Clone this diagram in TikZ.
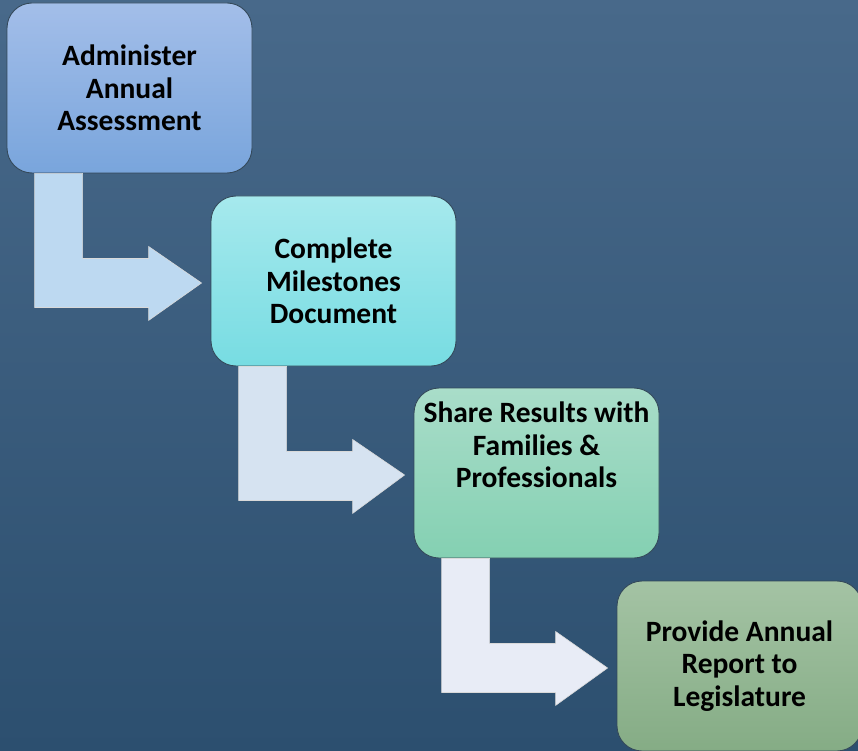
\documentclass[tikz,border=0pt]{standalone}
\usepackage{fontspec}
\setmainfont{Carlito}
\usetikzlibrary{calc}

\definecolor{bgtop}{HTML}{48698A}
\definecolor{bgbot}{HTML}{2C4F6F}
\definecolor{top1}{HTML}{A3BEE9}
\definecolor{bot1}{HTML}{79A5DC}
\definecolor{top2}{HTML}{A6E9ED}
\definecolor{bot2}{HTML}{77DCE2}
\definecolor{top3}{HTML}{A9DDC9}
\definecolor{bot3}{HTML}{84D0B2}
\definecolor{top4}{HTML}{A4C3A4}
\definecolor{bot4}{HTML}{85AC85}
\definecolor{arrow1}{HTML}{BDD9F1}
\definecolor{arrow2}{HTML}{D6E3F1}
\definecolor{arrow3}{HTML}{E8ECF6}
\definecolor{boxline}{HTML}{34495A}

\tikzset{
    stepbox/.style={draw=boxline, line width=0.9pt, rounded corners=25pt,
        minimum width=245pt, minimum height=170pt, inner sep=0pt},
    steptext/.style={align=center, text=black,
        font=\bfseries\fontsize{29.5}{32.5}\selectfont},
    bentarrow/.style={draw=white!85!black, line width=0.6pt}
}

\begin{document}
\begin{tikzpicture}[x=1pt, y=-1pt]
        \useasboundingbox (0, 0) rectangle (858, 751);
        \shade[top color=bgtop, bottom color=bgbot] (0, 0) rectangle (858, 751);
        \clip (0, 0) rectangle (858, 751);

        \foreach \x/\y/\d/\t [count=\i] in {129.5/88/0/{Administer\\Annual\\Assessment},
                333.5/281/0/{Complete\\Milestones\\Document},
                536.5/473/-28/{Share Results with\\Families \&\\Professionals},
                739.5/666/0/{Provide Annual\\Report to\\Legislature}} {
            \node[stepbox, top color=top\i, bottom color=bot\i] (box\i) at (\x, \y) {};
            \node[steptext] (label\i) at ($(box\i.center)+(0, \d)$) {\t};
        }

        \foreach \i in {1, 2, 3} {
            \pgfmathtruncatemacro{\j}{\i+1}
            \coordinate (o\i) at (box\i.south west);
            \coordinate (tip\i) at ($(box\j.west)+(-9, 2)$);
            \filldraw[bentarrow, fill=arrow\i] ($(o\i)+(28, 0)$) -- ($(o\i)+(76, 0)$)
                -- ($(o\i)+(76, 85)$) -- ($(o\i)+(142, 85)$) -- ($(o\i)+(142, 73)$)
                -- (tip\i) -- ($(o\i)+(142, 147)$) -- ($(o\i)+(142, 134)$)
                -- ($(o\i)+(28, 134)$) -- cycle;
        }
    \end{tikzpicture}
\end{document}
